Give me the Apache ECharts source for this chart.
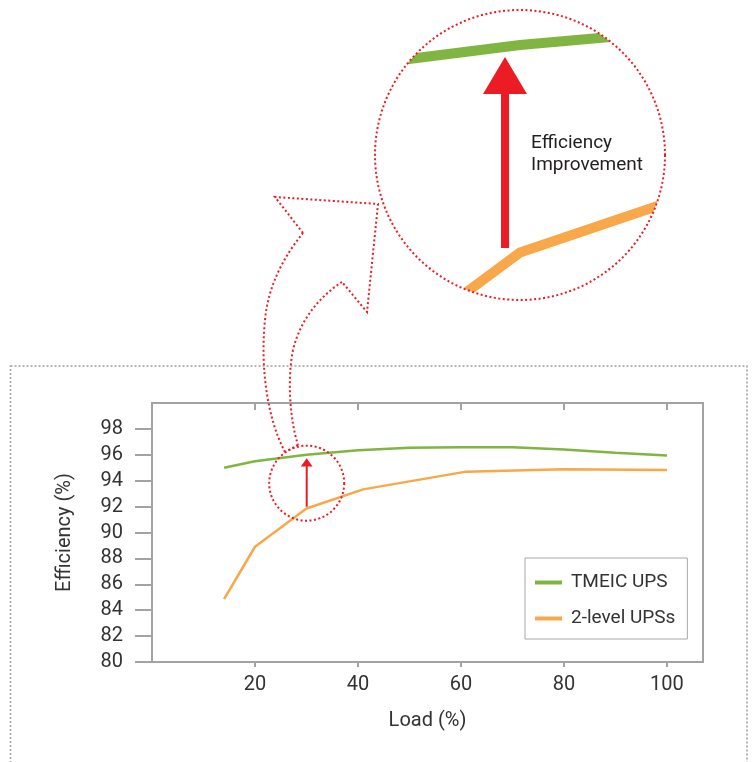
<!DOCTYPE html>
<html>
<head>
<meta charset="utf-8">
<script src="https://cdn.jsdelivr.net/npm/echarts@6/dist/echarts.min.js"></script>
<style>html,body{margin:0;padding:0;background:#fff;}#chart{width:752px;height:762px;}</style>
</head>
<body>
<div id="chart"></div>
<script>
// ---- data ----
const seriesNames = ['TMEIC UPS', '2-level UPSs'];
const tmeicLoad = [14, 20, 30, 40, 50, 60, 70, 80, 90, 100];
const tmeicEff  = [95.0, 95.5, 96.0, 96.35, 96.55, 96.58, 96.58, 96.4, 96.15, 95.95];
const twoLevelLoad = [14, 20, 30, 41, 61, 80, 100];
const twoLevelEff  = [84.85, 88.9, 91.85, 93.33, 94.7, 94.88, 94.83];
const xTicks = [20, 40, 60, 80, 100];
const yTicks = [80, 82, 84, 86, 88, 90, 92, 94, 96, 98];
const xName = 'Load (%)';
const yName = 'Efficiency (%)';
const calloutText = 'Efficiency\nImprovement';

const pairs = (xs, ys) => xs.map((x, i) => [x, ys[i]]);
const GREEN = '#80b541', ORANGE = '#f8a84a', RED = '#ec1c24', AXIS = '#a3a3a3', TXT = '#333333';
const FONT = 'Roboto';

const chart = echarts.init(document.getElementById('chart'));
const tickStyle = { color: AXIS, width: 2 };
const dotted = { stroke: RED, lineWidth: 2, lineDash: [2, 2.5], fill: null };
const bez = (x1, y1, c1x, c1y, c2x, c2y, x2, y2) => ({ type: 'bezierCurve', z: 103, silent: true,
  shape: { x1: x1, y1: y1, cpx1: c1x, cpy1: c1y, cpx2: c2x, cpy2: c2y, x2: x2, y2: y2 }, style: dotted });

chart.setOption({
  animation: false,
  textStyle: { fontFamily: FONT },
  grid: [
    { left: 152, top: 403, width: 551, height: 259, show: true, borderColor: AXIS, borderWidth: 2 },
    { left: 375, top: 10, width: 290, height: 290, show: false }
  ],
  xAxis: [
    { gridIndex: 0, type: 'value', min: 0, max: 107, interval: 20,
      axisLine: { show: false }, splitLine: { show: false },
      axisTick: { length: 5, lineStyle: tickStyle, customValues: xTicks },
      axisLabel: { customValues: xTicks, margin: 13, fontSize: 20, color: TXT, fontFamily: FONT },
      name: xName, nameLocation: 'middle', nameGap: 49,
      nameTextStyle: { fontSize: 20, color: TXT, fontFamily: FONT } },
    { gridIndex: 0, type: 'value', min: 0, max: 107, interval: 20,
      axisLine: { show: false }, splitLine: { show: false }, axisLabel: { show: false },
      axisTick: { inside: true, length: 7, lineStyle: tickStyle, customValues: xTicks } },
    { gridIndex: 1, type: 'value', min: 22.71, max: 37.29, show: false }
  ],
  yAxis: [
    { gridIndex: 0, type: 'value', min: 80, max: 100, interval: 2,
      axisLine: { show: false }, splitLine: { show: false },
      axisTick: { length: 13, lineStyle: tickStyle, customValues: yTicks },
      axisLabel: { customValues: yTicks, margin: 29, fontSize: 20, color: TXT, fontFamily: FONT },
      name: yName, nameLocation: 'middle', nameGap: 77,
      nameTextStyle: { fontSize: 20, color: TXT, fontFamily: FONT } },
    { gridIndex: 0, type: 'value', min: 80, max: 100, interval: 2,
      axisLine: { show: false }, splitLine: { show: false }, axisLabel: { show: false },
      axisTick: { inside: true, length: 17, lineStyle: tickStyle, customValues: yTicks } },
    { gridIndex: 1, type: 'value', min: 90.9, max: 96.7, show: false }
  ],
  legend: {
    left: 525, top: 558, orient: 'vertical', data: seriesNames, icon: 'rect',
    borderColor: '#a8a8a8', borderWidth: 1, padding: [14, 12, 10, 10],
    itemWidth: 27, itemHeight: 4, itemGap: 15,
    textStyle: { fontSize: 19, color: TXT, fontFamily: FONT, padding: [0, 0, 0, 4], lineHeight: 21 }
  },
  series: [
    { name: seriesNames[0], type: 'line', xAxisIndex: 0, yAxisIndex: 0, symbol: 'none',
      data: pairs(tmeicLoad, tmeicEff), lineStyle: { color: GREEN, width: 2.5 }, itemStyle: { color: GREEN } },
    { name: seriesNames[1], type: 'line', xAxisIndex: 0, yAxisIndex: 0, symbol: 'none',
      data: pairs(twoLevelLoad, twoLevelEff), lineStyle: { color: ORANGE, width: 2.5 }, itemStyle: { color: ORANGE } },
    { name: 'zoom-a', type: 'line', xAxisIndex: 2, yAxisIndex: 2, symbol: 'none', silent: true,
      data: pairs(tmeicLoad, tmeicEff), lineStyle: { color: GREEN, width: 10, join: 'miter' } },
    { name: 'zoom-b', type: 'line', xAxisIndex: 2, yAxisIndex: 2, symbol: 'none', silent: true,
      data: pairs(twoLevelLoad, twoLevelEff), lineStyle: { color: ORANGE, width: 10, join: 'miter' } }
  ],
  graphic: [
    { type: 'rect', z: 0, silent: true, shape: { x: 10.5, y: 366, width: 736.5, height: 420 },
      style: { stroke: '#a0a0a0', lineWidth: 1.5, lineDash: [2, 2], fill: null } },
    { type: 'ring', z: 100, silent: true, shape: { cx: 520, cy: 155, r: 207, r0: 145 }, style: { fill: '#ffffff' } },
    { type: 'circle', z: 101, silent: true, shape: { cx: 520, cy: 155, r: 145 }, style: dotted },
    { type: 'polygon', z: 102, silent: true,
      shape: { points: [[501, 248], [501, 94], [483, 94], [505, 57], [527, 94], [509, 94], [509, 248]] },
      style: { fill: RED } },
    { type: 'text', z: 102, silent: true, x: 531, y: 132,
      style: { text: calloutText, fontSize: 19, lineHeight: 22, fontFamily: FONT, fill: '#231f20', verticalAlign: 'top' } },
    bez(285, 452, 268, 420, 260, 370, 265, 320),
    bez(265, 320, 268, 285, 285, 255, 303, 233),
    { type: 'polyline', z: 103, silent: true,
      shape: { points: [[303, 233], [275, 197], [378, 204], [367, 312], [342, 282]] }, style: dotted },
    bez(342, 282, 320, 296, 300, 320, 293, 350),
    bez(293, 350, 287, 380, 290, 420, 298, 445),
    { type: 'line', z: 103, silent: true, shape: { x1: 298, y1: 445, x2: 285, y2: 452 }, style: dotted },
    { type: 'circle', z: 103, silent: true, shape: { cx: 306.7, cy: 483.2, r: 37.5 }, style: dotted },
    { type: 'polygon', z: 103, silent: true,
      shape: { points: [[305.7, 506.7], [305.7, 466.6], [300.8, 466.6], [306.7, 458.3], [312.6, 466.6], [307.7, 466.6], [307.7, 506.7]] },
      style: { fill: RED } }
  ]
});
</script>
</body>
</html>
